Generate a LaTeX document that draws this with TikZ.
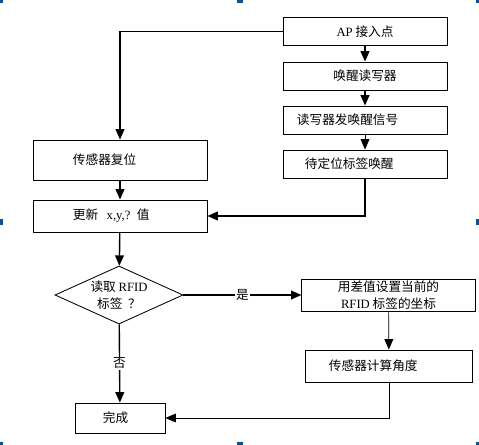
\documentclass[tikz,border=0pt]{standalone}
\usepackage{fontspec}
\setmainfont{Liberation Serif}
\newfontfamily\cjk{Noto Sans CJK SC}
\usetikzlibrary{shapes.geometric,arrows.meta}
\newcommand{\lat}[1]{{\rmfamily #1}}
\begin{document}
\begin{tikzpicture}[x=0.025cm,y=-0.025cm,
  font=\cjk\fontsize{9}{12}\selectfont,
  box/.style={draw,line width=0.6pt,inner sep=0pt,align=center},
  leftbox/.style={draw,line width=0.6pt,inner ysep=0pt,inner xsep=#1,align=left},
  decide/.style={draw,diamond,aspect=2.2,line width=0.6pt,inner sep=0pt,align=center},
  arr/.style={line width=1pt,-{Triangle[length=2.6mm,width=2.2mm]}},
  thinarr/.style={line width=0.5pt,-{Triangle[length=2.6mm,width=2.2mm]}},
  handle/.style={fill=blue!45!cyan!60!black}]
\useasboundingbox (0,0) rectangle (479,445);
% right chain
\node[box,minimum width=4.1cm,minimum height=0.68cm] (ap) at (365,31.5) {\lat{AP} 接入点};
\node[box,minimum width=4.1cm,minimum height=0.7cm] (wake) at (365,76) {唤醒读写器};
\node[leftbox=0.35cm,text width=3.4cm,minimum height=0.7cm] (send) at (365,120) {读写器发唤醒信号};
\node[leftbox=0.55cm,text width=3cm,minimum height=0.7cm] (tag) at (365,164) {待定位标签唤醒};
% left chain
\node[leftbox=1cm,text width=2.35cm,minimum height=1cm] (reset) at (120,160) {传感器复位};
\node[leftbox=1cm,text width=2.35cm,minimum height=0.8cm] (update) at (120,216) {更新\ \ \lat{x,y,?} 值};
\node[decide,minimum width=3.2cm,minimum height=1.45cm] (ask) at (119,295) {读取 \lat{RFID}\\标签 \ ？};
\node[box,minimum width=4.33cm,minimum height=0.8cm] (coord) at (388.5,295) {用差值设置当前的\\\lat{RFID}\ 标签的坐标};
\node[leftbox=0.58cm,text width=3cm,minimum height=0.8cm] (angle) at (389,366) {传感器计算角度};
\node[leftbox=0.7cm,text width=0.85cm,minimum height=0.75cm] (done) at (120,418) {完成};
% connectors
\draw[arr] (ap.west) -| (reset.north);
\draw[arr] (ap) -- (wake);
\draw[arr] (wake) -- (send);
\draw[thinarr] (send) -- (tag);
\draw[arr] (tag.south) |- (update.east);
\draw[arr] (reset) -- (update);
\draw[arr] (update) -- (ask);
\draw[arr] (ask) -- node[fill=white,inner sep=1pt] {是} (coord);
\draw[arr] (ask) -- node[fill=white,inner sep=1pt] {否} (done);
\draw[thinarr] (coord) -- (angle);
\draw[thinarr] (angle.south) |- (done.east);
% selection handles
\foreach \hx/\hy in {0/0,240/0,479/0,0/222,479/222,0/445,240/445,479/445}
  \fill[handle] (\hx-3,\hy-3) rectangle (\hx+3,\hy+3);
\end{tikzpicture}
\end{document}
